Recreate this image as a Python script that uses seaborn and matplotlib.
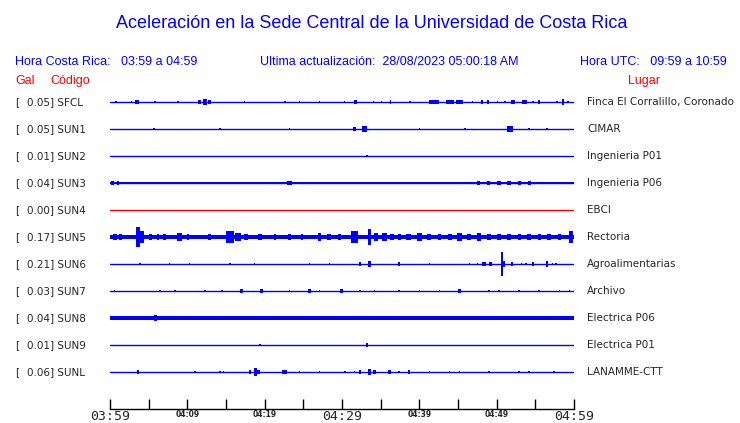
import numpy as np
import pandas as pd
import matplotlib
matplotlib.use("Agg")
import matplotlib.pyplot as plt
import matplotlib.transforms as mtransforms
import seaborn as sns

# station table (top to bottom)
codes = ["SFCL", "SUN1", "SUN2", "SUN3", "SUN4", "SUN5", "SUN6", "SUN7", "SUN8", "SUN9", "SUNL"]
gal = [0.05, 0.05, 0.01, 0.04, 0.00, 0.17, 0.21, 0.03, 0.04, 0.01, 0.06]
places = ["Finca El Corralillo, Coronado", "CIMAR", "Ingenieria P01", "Ingenieria P06", "EBCI",
          "Rectoria", "Agroalimentarias", "Archivo", "Electrica P06", "Electrica P01", "LANAMME-CTT"]
trace_colors = ["blue"] * 4 + ["red"] + ["blue"] * 6
# background noise half-width of each trace (fraction of row spacing)
noise = [0.02, 0.02, 0.02, 0.03, 0.02, 0.09, 0.02, 0.02, 0.06, 0.02, 0.02]

# bursts: (minutes after 03:59, half amplitude, duration in minutes)
ev_sfcl = [(0.8, 0.04, 0.3), (2.8, 0.04, 0.2), (3.5, 0.08, 0.6), (5.8, 0.04, 0.2), (8.8, 0.04, 0.2),
           (11.6, 0.08, 0.4), (12.3, 0.11, 0.5), (12.9, 0.08, 0.4), (17.4, 0.04, 0.2), (22.6, 0.04, 0.2),
           (24.5, 0.04, 0.2), (27.1, 0.04, 0.2), (30.3, 0.04, 0.2), (31.7, 0.08, 0.4), (34.1, 0.04, 0.2),
           (35.1, 0.04, 0.2), (36.3, 0.08, 0.2), (38.8, 0.04, 0.3), (41.9, 0.08, 1.2), (44.0, 0.08, 1.0),
           (45.2, 0.08, 0.8), (46.9, 0.04, 0.2), (48.1, 0.08, 0.3), (48.9, 0.08, 0.3), (50.1, 0.04, 0.2),
           (51.1, 0.04, 0.2), (52.1, 0.08, 0.6), (53.6, 0.08, 0.6), (54.7, 0.04, 0.2), (55.5, 0.08, 0.3),
           (57.8, 0.04, 0.2), (58.6, 0.11, 0.3), (59.2, 0.04, 0.2)]
ev_sun1 = [(5.7, 0.04, 0.2), (14.2, 0.04, 0.2), (23.2, 0.04, 0.2), (31.6, 0.08, 0.3), (32.9, 0.11, 0.6),
           (40.0, 0.04, 0.2), (45.9, 0.04, 0.2), (51.7, 0.11, 0.8), (54.2, 0.04, 0.2), (56.5, 0.04, 0.2)]
ev_sun2 = [(33.2, 0.04, 0.2)]
ev_sun3 = [(0.3, 0.08, 0.4), (1.0, 0.08, 0.3), (3.6, 0.04, 0.2), (5.2, 0.04, 0.2), (7.1, 0.04, 0.2),
           (9.0, 0.04, 0.2), (11.0, 0.04, 0.2), (12.3, 0.04, 0.2), (15.5, 0.04, 0.2), (17.4, 0.04, 0.2),
           (18.7, 0.04, 0.2), (20.7, 0.04, 0.2), (23.2, 0.08, 0.6), (24.5, 0.04, 0.2), (27.1, 0.04, 0.2),
           (30.3, 0.04, 0.2), (32.3, 0.04, 0.2), (33.6, 0.04, 0.2), (36.1, 0.04, 0.2), (38.7, 0.04, 0.2),
           (41.3, 0.04, 0.2), (43.2, 0.04, 0.2), (45.2, 0.04, 0.2), (47.7, 0.08, 0.4), (49.0, 0.08, 0.4),
           (50.3, 0.08, 0.4), (51.6, 0.08, 0.4), (52.9, 0.08, 0.4), (54.2, 0.08, 0.4), (55.5, 0.04, 0.2),
           (57.4, 0.04, 0.2), (59.4, 0.04, 0.2)]
ev_sun4 = []
ev_sun5 = [(0.6, 0.11, 0.5), (1.3, 0.11, 0.4), (3.6, 0.37, 0.5), (4.0, 0.22, 0.8), (5.2, 0.11, 0.4),
           (6.2, 0.11, 0.3), (7.1, 0.11, 0.4), (9.0, 0.15, 0.6), (10.1, 0.11, 0.3), (12.9, 0.11, 0.4),
           (15.5, 0.22, 1.0), (16.5, 0.15, 0.8), (17.6, 0.11, 0.6), (19.4, 0.11, 0.4), (21.3, 0.11, 0.3),
           (23.2, 0.11, 0.4), (24.8, 0.11, 0.3), (27.1, 0.15, 0.4), (28.3, 0.11, 0.5), (29.7, 0.11, 0.4),
           (31.6, 0.22, 1.0), (33.6, 0.30, 0.4), (34.4, 0.15, 0.6), (35.5, 0.15, 0.6), (36.5, 0.11, 0.5),
           (37.4, 0.11, 0.4), (38.6, 0.11, 0.6), (40.0, 0.15, 0.6), (41.2, 0.11, 0.5), (42.6, 0.11, 0.4),
           (44.0, 0.11, 0.5), (45.2, 0.15, 0.6), (46.4, 0.11, 0.5), (47.7, 0.15, 0.6), (49.0, 0.11, 0.5),
           (50.3, 0.11, 0.4), (51.6, 0.11, 0.5), (52.9, 0.11, 0.4), (54.2, 0.11, 0.5), (55.5, 0.11, 0.4),
           (56.8, 0.11, 0.5), (58.1, 0.11, 0.4), (59.6, 0.22, 0.5)]
ev_sun6 = [(3.9, 0.04, 0.2), (7.7, 0.04, 0.2), (10.3, 0.04, 0.2), (15.5, 0.04, 0.2), (18.7, 0.04, 0.2),
           (25.8, 0.04, 0.2), (28.4, 0.04, 0.2), (32.3, 0.08, 0.3), (33.6, 0.11, 0.4), (37.4, 0.08, 0.3),
           (41.3, 0.04, 0.2), (46.5, 0.04, 0.2), (47.5, 0.04, 0.2), (48.4, 0.08, 0.5), (49.2, 0.08, 0.3),
           (50.7, 0.44, 0.2), (50.8, 0.11, 0.5), (52.0, 0.08, 0.3), (53.2, 0.04, 0.2), (53.8, 0.04, 0.2),
           (54.7, 0.08, 0.3), (56.5, 0.11, 0.2), (57.2, 0.04, 0.2), (57.7, 0.04, 0.2)]
ev_sun7 = [(0.6, 0.04, 0.2), (6.5, 0.04, 0.2), (8.4, 0.04, 0.2), (12.3, 0.04, 0.2), (14.5, 0.04, 0.2),
           (17.0, 0.08, 0.4), (19.6, 0.08, 0.4), (23.2, 0.04, 0.2), (25.8, 0.08, 0.4), (27.1, 0.04, 0.2),
           (29.9, 0.08, 0.4), (32.3, 0.04, 0.2), (34.2, 0.04, 0.2), (37.4, 0.04, 0.2), (40.0, 0.04, 0.2),
           (42.6, 0.04, 0.2), (45.2, 0.08, 0.4), (49.0, 0.04, 0.2), (50.3, 0.04, 0.2), (52.9, 0.04, 0.2),
           (55.5, 0.04, 0.2), (58.1, 0.04, 0.2), (59.4, 0.04, 0.2)]
ev_sun8 = [(0.5, 0.08, 0.6), (2.0, 0.08, 0.8), (5.9, 0.11, 0.3), (8.0, 0.08, 1.0), (12.5, 0.08, 0.6),
           (17.0, 0.08, 1.0), (20.0, 0.08, 1.0), (24.0, 0.08, 1.0), (29.8, 0.08, 0.3), (33.0, 0.08, 0.3),
           (41.5, 0.08, 0.3), (56.0, 0.08, 0.3)]
ev_sun9 = [(19.4, 0.04, 0.2), (33.2, 0.08, 0.2)]
ev_sunl = [(3.6, 0.08, 0.3), (11.0, 0.04, 0.2), (14.2, 0.04, 0.2), (14.7, 0.04, 0.2), (18.1, 0.08, 0.3),
           (18.8, 0.15, 0.3), (19.2, 0.08, 0.3), (22.5, 0.08, 0.4), (22.8, 0.08, 0.3), (24.5, 0.04, 0.2),
           (27.1, 0.04, 0.2), (30.4, 0.04, 0.2), (31.6, 0.04, 0.2), (32.3, 0.08, 0.3), (33.6, 0.11, 0.4),
           (34.2, 0.08, 0.3), (36.1, 0.08, 0.4), (37.4, 0.04, 0.2), (38.7, 0.08, 0.3), (41.3, 0.04, 0.2),
           (43.9, 0.04, 0.2), (45.2, 0.04, 0.2), (49.0, 0.04, 0.2), (52.9, 0.04, 0.2), (54.2, 0.04, 0.2),
           (57.4, 0.04, 0.2)]
events = [ev_sfcl, ev_sun1, ev_sun2, ev_sun3, ev_sun4, ev_sun5, ev_sun6, ev_sun7, ev_sun8, ev_sun9, ev_sunl]

tick_minutes = list(range(0, 61, 5))
tick_labels = ["03:59", "", "04:09", "", "04:19", "", "04:29", "", "04:39", "", "04:49", "", "04:59"]

sns.set_style("white")
plt.rcParams["font.family"] = ["Liberation Sans", "DejaVu Sans"]

W, H = 740, 423
fig = plt.figure(figsize=(7.4, 4.23), dpi=100)
ax = fig.add_axes([110 / W, 1 - 409 / H, 464 / W, 321 / H])

# baselines
base = pd.DataFrame({"t": [0, 60] * len(codes),
                     "row": np.repeat(np.arange(len(codes)), 2),
                     "code": np.repeat(codes, 2)})
sns.lineplot(data=base, x="t", y="row", hue="code", palette=dict(zip(codes, trace_colors)),
             legend=False, linewidth=1.0, ax=ax, estimator=None, sort=False)

for i, ev in enumerate(events):
    if noise[i] > 0.02:
        ax.fill_between([0, 60], i - noise[i], i + noise[i], color=trace_colors[i], lw=0)
    if ev:
        t, a, d = zip(*ev)
        a = np.array(a)
        ax.bar(t, 2 * a, width=d, bottom=i - a, color=trace_colors[i], linewidth=0, antialiased=False)

ax.set_xlim(0, 60)
ax.set_ylim(11.37, -0.52)
for s in ["left", "top", "right"]:
    ax.spines[s].set_visible(False)
ax.spines["bottom"].set_color("black")
ax.spines["bottom"].set_linewidth(1)
ax.set_yticks([])
ax.set_xlabel("")
ax.set_ylabel("")
ax.set_xticks(tick_minutes)
ax.set_xticklabels(tick_labels)
ax.tick_params(axis="x", direction="in", length=7, width=1, color="black", pad=0.5, bottom=True)
for lab, m in zip(ax.get_xticklabels(), tick_minutes):
    if m % 30 == 0:
        lab.set_fontsize(9.5)
        lab.set_family("DejaVu Sans Mono")
    else:
        lab.set_fontsize(5.5)
        lab.set_family("DejaVu Sans")
        lab.set_fontweight("bold")

# row labels
tr = mtransforms.blended_transform_factory(fig.transFigure, ax.transData)
for i in range(len(codes)):
    ax.text(15 / W, i, "[", transform=tr, fontsize=7.5, family="DejaVu Sans", va="center", ha="left")
    ax.text(27 / W, i, f"{gal[i]:.2f}] {codes[i]}", transform=tr, fontsize=7.5,
            family="DejaVu Sans", va="center", ha="left")
    ax.text(587 / W, i, places[i], transform=tr, fontsize=7.5, family="DejaVu Sans",
            va="center", ha="left")

blue = "#0000ff"
red = "#ff0000"
fig.text(372 / W, 1 - 24 / H, "Aceleración en la Sede Central de la Universidad de Costa Rica",
         color=blue, fontsize=13, ha="center", va="center")
fig.text(15 / W, 1 - 62 / H, "Hora Costa Rica:   03:59 a 04:59", color=blue, fontsize=9, va="center")
fig.text(260 / W, 1 - 62 / H, "Ultima actualización:  28/08/2023 05:00:18 AM", color=blue,
         fontsize=9, va="center")
fig.text(580 / W, 1 - 62 / H, "Hora UTC:   09:59 a 10:59", color=blue, fontsize=9, va="center")
fig.text(15 / W, 1 - 81 / H, "Gal", color=red, fontsize=9, va="center")
fig.text(50 / W, 1 - 81 / H, "Código", color=red, fontsize=9, va="center")
fig.text(628 / W, 1 - 81 / H, "Lugar", color=red, fontsize=9, va="center")

fig.savefig("out.png", dpi=100)
